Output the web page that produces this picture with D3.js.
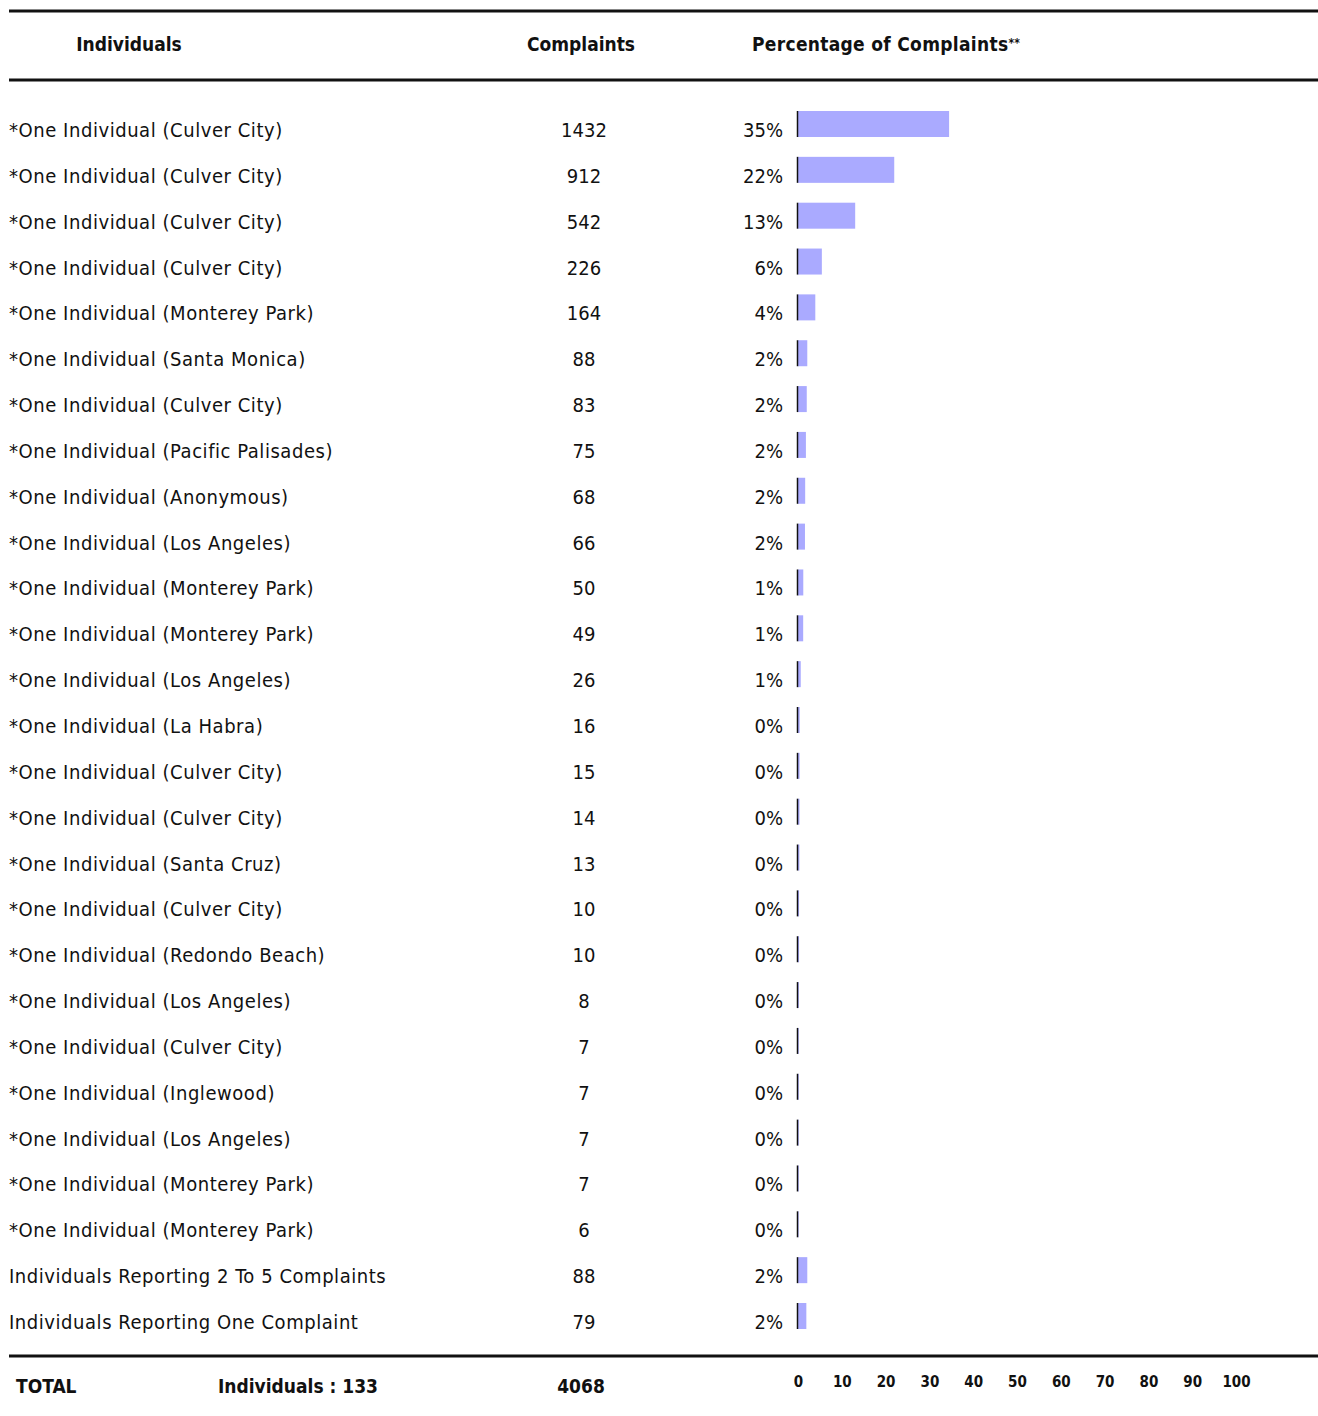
<!DOCTYPE html>
<html>
<head>
<meta charset="utf-8">
<title>Complaints by individual</title>
<style>
  body { margin: 0; background: #fff; }
  text { font-family: "DejaVu Sans Condensed", "DejaVu Sans", sans-serif; fill: #111; }
</style>
</head>
<body>
<svg></svg>
<script src="https://d3js.org/d3.v7.min.js"></script>
<script>
// rows of the table
var names = [
  "*One Individual (Culver City)",
  "*One Individual (Culver City)",
  "*One Individual (Culver City)",
  "*One Individual (Culver City)",
  "*One Individual (Monterey Park)",
  "*One Individual (Santa Monica)",
  "*One Individual (Culver City)",
  "*One Individual (Pacific Palisades)",
  "*One Individual (Anonymous)",
  "*One Individual (Los Angeles)",
  "*One Individual (Monterey Park)",
  "*One Individual (Monterey Park)",
  "*One Individual (Los Angeles)",
  "*One Individual (La Habra)",
  "*One Individual (Culver City)",
  "*One Individual (Culver City)",
  "*One Individual (Santa Cruz)",
  "*One Individual (Culver City)",
  "*One Individual (Redondo Beach)",
  "*One Individual (Los Angeles)",
  "*One Individual (Culver City)",
  "*One Individual (Inglewood)",
  "*One Individual (Los Angeles)",
  "*One Individual (Monterey Park)",
  "*One Individual (Monterey Park)",
  "Individuals Reporting 2 To 5 Complaints",
  "Individuals Reporting One Complaint"
];
var complaints = [1432, 912, 542, 226, 164, 88, 83, 75, 68, 66, 50, 49, 26, 16, 15, 14, 13, 10, 10, 8, 7, 7, 7, 7, 6, 88, 79];
var pctLabels = ["35%", "22%", "13%", "6%", "4%", "2%", "2%", "2%", "2%", "2%", "1%", "1%", "1%",
  "0%", "0%", "0%", "0%", "0%", "0%", "0%", "0%", "0%", "0%", "0%", "0%", "2%", "2%"];
var totalComplaints = 4068;
var totalIndividuals = 133;
var axisTicks = [0, 10, 20, 30, 40, 50, 60, 70, 80, 90, 100];

var width = 1318, height = 1416;
var svg = d3.select("svg").attr("width", width).attr("height", height);

// vertical placement of rows
var y = d3.scalePoint()
  .domain(d3.range(names.length))
  .range([129, 1321]);

// percent scale for bars
var x = d3.scaleLinear().domain([0, 100]).range([798, 1236]);

// rules
function rule(yy) {
  svg.append("line")
    .attr("x1", 9).attr("x2", width)
    .attr("y1", yy).attr("y2", yy)
    .attr("stroke", "#111").attr("stroke-width", 3);
}
rule(11);
rule(80);
rule(1356);

// header
var head = svg.append("g").style("font-weight", "bold").style("font-size", "19px");
head.append("text").attr("x", 129).attr("y", 51).attr("text-anchor", "middle").text("Individuals");
head.append("text").attr("x", 581).attr("y", 51).attr("text-anchor", "middle").text("Complaints");
var pt = head.append("text").attr("x", 752).attr("y", 51).style("letter-spacing", "0.3px").text("Percentage of Complaints");
pt.append("tspan").attr("dy", -4).style("font-size", "12px").text("**");

// rows
var rows = svg.append("g").selectAll("g")
  .data(names)
  .enter()
  .append("g")
  .attr("transform", function(d, i) { return "translate(0," + y(i) + ")"; });

rows.append("text")
  .attr("x", 9).attr("y", 8)
  .style("font-size", "20px")
  .style("letter-spacing", "0.55px")
  .text(function(d) { return d; });

rows.append("text")
  .attr("x", 584).attr("y", 8)
  .attr("text-anchor", "middle")
  .style("font-size", "20px")
  .text(function(d, i) { return complaints[i]; });

rows.append("text")
  .attr("x", 783).attr("y", 8)
  .attr("text-anchor", "end")
  .style("font-size", "20px")
  .text(function(d, i) { return pctLabels[i]; });

rows.append("rect")
  .attr("x", x(0)).attr("y", -18)
  .attr("height", 26)
  .attr("width", function(d, i) { return (x(complaints[i] / totalComplaints * 100) - x(0)) * 0.98; })
  .attr("fill", "#aaaaff");

rows.append("line")
  .attr("x1", x(0) - 0.5).attr("x2", x(0) - 0.5)
  .attr("y1", -18).attr("y2", 8)
  .attr("stroke", "#111").attr("stroke-width", 1.5);

// total row
var tot = svg.append("g").style("font-weight", "bold").style("font-size", "19px");
tot.append("text").attr("x", 16).attr("y", 1393).text("TOTAL");
tot.append("text").attr("x", 218).attr("y", 1393).text("Individuals : " + totalIndividuals);
tot.append("text").attr("x", 581).attr("y", 1393).attr("text-anchor", "middle").text(totalComplaints);

// percent axis labels
var axis = d3.axisBottom(x).tickValues(axisTicks).tickSize(0).tickPadding(0);
var ag = svg.append("g").attr("transform", "translate(0,1376)").call(axis);
ag.select(".domain").remove();
ag.selectAll("text")
  .style("font-family", "'DejaVu Sans Condensed', 'DejaVu Sans', sans-serif")
  .style("font-size", "15px")
  .style("font-weight", "bold")
  .attr("fill", "#111");
</script>
</body>
</html>
